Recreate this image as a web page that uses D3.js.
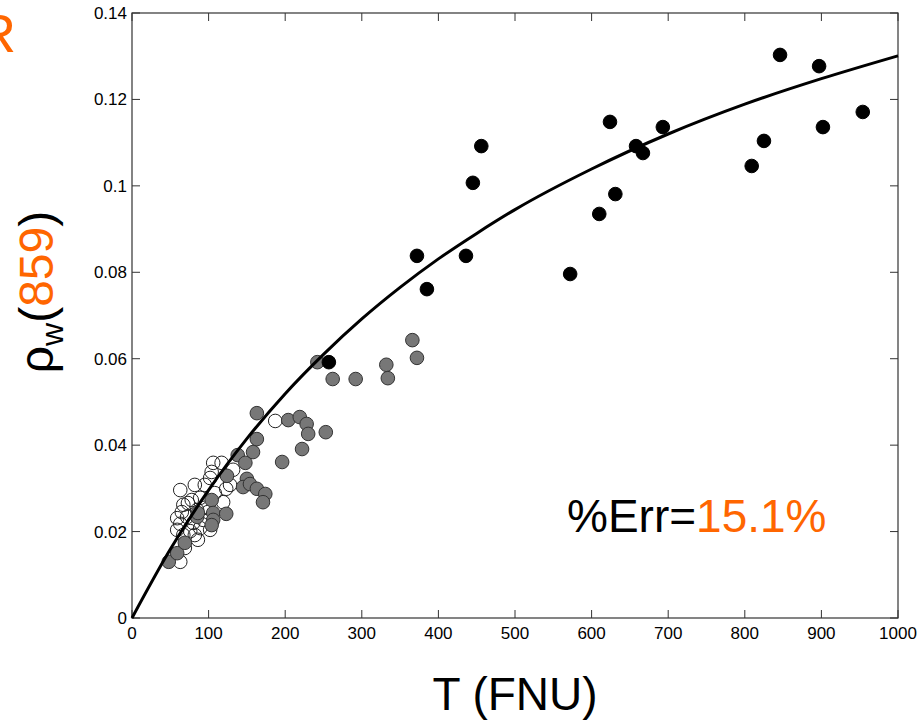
<!DOCTYPE html>
<html lang="en">
  <head>
    <meta charset="utf-8">
    <title>rho_w(859) vs turbidity</title>
    <script src="https://unpkg.com/d3@7/dist/d3.min.js"></script>
    <style type="text/css">
body,html{
    margin: 0;
    padding: 0;
    background: #fff;
    font-family: "Liberation Sans", Arial, sans-serif;
  }
    </style>
  </head>
  <body>
    <script type="text/javascript">
      let w = 922;
      let h = 722;

      // axis ticks
      const xTicks = [0, 100, 200, 300, 400, 500, 600, 700, 800, 900, 1000];
      const yTicks = [0, 0.02, 0.04, 0.06, 0.08, 0.1, 0.12, 0.14];

      // open circles [T, rho]
      const openPts = [
        [63,0.0130],[63,0.0296],[82,0.0308],[102,0.0324],[106,0.0359],[117,0.0359],
        [132,0.0343],[128,0.0308],[119,0.0268],[108,0.0289],[187,0.0456],[95,0.0308],
        [67,0.0262],[73,0.0266],[65,0.0245],[59,0.0231],[63,0.0218],[59,0.0204],
        [67,0.0192],[76,0.0201],[80,0.0220],[89,0.0208],[85,0.0250],[95,0.0255],
        [78,0.0273],[89,0.0278],[99,0.0245],[93,0.0227],[72,0.0234],[82,0.0192],
        [102,0.0204],[86,0.0181],[104,0.0338],[123,0.0299],[69,0.0162]
      ];

      // grey filled circles
      const greyPts = [
        [48,0.0130],[59,0.0150],[69,0.0174],[85,0.0234],[86,0.0243],[104,0.0273],
        [106,0.0243],[106,0.0227],[104,0.0215],[124,0.0329],[123,0.0241],[138,0.0377],
        [148,0.0359],[150,0.0322],[145,0.0303],[154,0.0310],[163,0.0299],[174,0.0287],
        [171,0.0268],[158,0.0384],[163,0.0414],[163,0.0474],[196,0.0361],[204,0.0458],
        [219,0.0465],[222,0.0391],[228,0.0449],[230,0.0426],[253,0.0430],[242,0.0592],
        [262,0.0553],[292,0.0553],[332,0.0586],[334,0.0555],[366,0.0643],[372,0.0602]
      ];

      // black filled circles
      const blackPts = [
        [257,0.0592],[372,0.0838],[385,0.0761],[436,0.0838],[445,0.1007],[456,0.1092],
        [572,0.0796],[610,0.0935],[631,0.0981],[624,0.1148],[658,0.1092],[667,0.1076],
        [693,0.1136],[809,0.1046],[825,0.1104],[846,0.1303],[897,0.1277],[902,0.1136],
        [954,0.1171]
      ];

      // fitted curve
      const fitT = [0, 50, 100, 150, 200, 250, 300, 350, 400, 450, 500, 600, 700, 800, 900, 1000];
      const fitRho = [0, 0.0159, 0.0296, 0.0415, 0.0519, 0.0610, 0.0692, 0.0765, 0.0831,
                      0.0890, 0.0945, 0.1039, 0.1120, 0.1189, 0.1248, 0.1301];

      const orange = "#ff6600";

      const x = d3.scaleLinear().domain([0, 1000]).range([132, 898]);
      const y = d3.scaleLinear().domain([0, 0.14]).range([618, 13]);

      const svg = d3.select("body")
        .append("svg")
        .attr("width", w)
        .attr("height", h);

      // frame
      svg.append("rect")
        .attr("x", x(0)).attr("y", y(0.14))
        .attr("width", x(1000) - x(0)).attr("height", y(0) - y(0.14))
        .attr("fill", "none").attr("stroke", "#333").attr("stroke-width", 1.2);

      const tickLen = 8;
      const fmtY = d => d === 0 ? "0" : d3.format(".2~f")(d);

      // x ticks (bottom + top, inward)
      const xt = svg.append("g").selectAll("g").data(xTicks).enter().append("g");
      xt.append("line")
        .attr("x1", d => x(d)).attr("x2", d => x(d))
        .attr("y1", y(0)).attr("y2", y(0) - tickLen)
        .attr("stroke", "#333");
      xt.append("line")
        .attr("x1", d => x(d)).attr("x2", d => x(d))
        .attr("y1", y(0.14)).attr("y2", y(0.14) + tickLen)
        .attr("stroke", "#333");
      xt.append("text")
        .attr("x", d => x(d)).attr("y", y(0) + 21)
        .attr("text-anchor", "middle")
        .attr("font-size", 17)
        .text(d => d);

      // y ticks (left + right, inward)
      const yt = svg.append("g").selectAll("g").data(yTicks).enter().append("g");
      yt.append("line")
        .attr("x1", x(0)).attr("x2", x(0) + tickLen)
        .attr("y1", d => y(d)).attr("y2", d => y(d))
        .attr("stroke", "#333");
      yt.append("line")
        .attr("x1", x(1000)).attr("x2", x(1000) - tickLen)
        .attr("y1", d => y(d)).attr("y2", d => y(d))
        .attr("stroke", "#333");
      yt.append("text")
        .attr("x", x(0) - 5).attr("y", d => y(d) + 6)
        .attr("text-anchor", "end")
        .attr("font-size", 17)
        .text(fmtY);

      // markers
      const r = 6.8;
      svg.append("g").selectAll("circle").data(openPts).enter().append("circle")
        .attr("cx", d => x(d[0])).attr("cy", d => y(d[1])).attr("r", r)
        .attr("fill", "none").attr("stroke", "#222").attr("stroke-width", 1);
      svg.append("g").selectAll("circle").data(greyPts).enter().append("circle")
        .attr("cx", d => x(d[0])).attr("cy", d => y(d[1])).attr("r", r)
        .attr("fill", "#777").attr("stroke", "#333").attr("stroke-width", 1);
      svg.append("g").selectAll("circle").data(blackPts).enter().append("circle")
        .attr("cx", d => x(d[0])).attr("cy", d => y(d[1])).attr("r", r)
        .attr("fill", "#000").attr("stroke", "#000").attr("stroke-width", 1);

      // fit line
      const line = d3.line()
        .x((d, i) => x(fitT[i]))
        .y(d => y(d))
        .curve(d3.curveMonotoneX);
      svg.append("path")
        .attr("d", line(fitRho))
        .attr("fill", "none")
        .attr("stroke", "#000")
        .attr("stroke-width", 3);

      // labels
      svg.append("text")
        .attr("x", 515).attr("y", 710)
        .attr("text-anchor", "middle")
        .attr("font-size", 46)
        .text("T (FNU)");

      const yl = svg.append("text")
        .attr("transform", "translate(53,292) rotate(-90)")
        .attr("text-anchor", "middle")
        .attr("font-size", 48);
      yl.append("tspan").text("ρ");
      yl.append("tspan").attr("font-size", 32).attr("dy", 10).text("w");
      yl.append("tspan").attr("dy", -10).text("(");
      yl.append("tspan").attr("fill", orange).text("859");
      yl.append("tspan").text(")");

      const err = svg.append("text")
        .attr("x", 567).attr("y", 532)
        .attr("font-size", 46);
      err.append("tspan").text("%Err=");
      err.append("tspan").attr("fill", orange).text("15.1%");

      // cropped orange letter at the top-left
      svg.append("text")
        .attr("x", 16).attr("y", 52)
        .attr("text-anchor", "end")
        .attr("font-size", 54)
        .attr("fill", orange)
        .text("R");

    </script>
  </body>
</html>
